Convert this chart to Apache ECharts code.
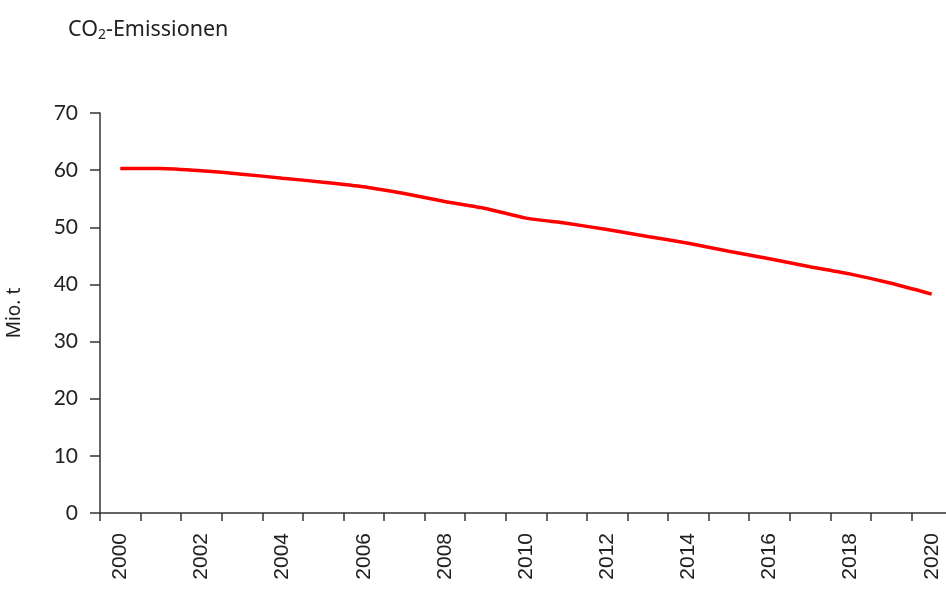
<!DOCTYPE html>
<html>
<head>
<meta charset="utf-8">
<script src="https://cdn.jsdelivr.net/npm/echarts@6/dist/echarts.min.js"></script>
<style>
html, body { margin: 0; padding: 0; background: #fff; }
#main { width: 946px; height: 592px; }
</style>
</head>
<body>
<div id="main"></div>
<script>
// Jahre (x-Achse)
var years = ['2000', '2001', '2002', '2003', '2004', '2005', '2006', '2007', '2008', '2009', '2010',
  '2011', '2012', '2013', '2014', '2015', '2016', '2017', '2018', '2019', '2020'];
// CO2-Emissionen in Mio. t
var emissions = [60.3, 60.3, 59.9, 59.3, 58.6, 57.9, 57.1, 55.9, 54.5, 53.3, 51.6,
  50.7, 49.6, 48.4, 47.2, 45.8, 44.5, 43.1, 41.8, 40.2, 38.3];
var yTicks = [0, 10, 20, 30, 40, 50, 60, 70];

var axisColor = '#333';
var chart = echarts.init(document.getElementById('main'));

var option = {
  animation: false,
  title: {
    text: '{a|CO}{s|2}{a|-Emissionen}',
    left: 63,
    top: 12,
    textStyle: {
      fontWeight: 'normal',
      rich: {
        a: { fontFamily: 'Noto Sans', fontWeight: 'normal', fontSize: 21.5, color: '#222', lineHeight: 26 },
        s: { fontFamily: 'Noto Sans', fontWeight: 'normal', fontSize: 14, color: '#222', padding: [11, 0, 0, 0], lineHeight: 26 }
      }
    }
  },
  grid: {
    left: 100,
    top: 113,
    bottom: 79,
    width: 852,
    outerBoundsMode: 'none'
  },
  xAxis: {
    type: 'category',
    data: years,
    boundaryGap: true,
    axisLine: { lineStyle: { color: axisColor, width: 1.5 } },
    axisTick: { show: true, interval: 0, length: 8, lineStyle: { color: axisColor, width: 1.5 } },
    axisLabel: {
      interval: 1,
      rotate: 90,
      margin: 20,
      fontFamily: 'Liberation Sans',
      fontSize: 21,
      color: '#222'
    },
    splitLine: { show: false }
  },
  yAxis: {
    type: 'value',
    min: yTicks[0],
    max: yTicks[yTicks.length - 1],
    interval: 10,
    name: 'Mio. t',
    nameLocation: 'middle',
    nameGap: 76,
    nameRotate: 90,
    nameTextStyle: { fontFamily: 'Noto Sans', fontSize: 19, color: '#222' },
    axisLine: { show: true, lineStyle: { color: axisColor, width: 1.5 } },
    axisTick: { show: true, length: 10, lineStyle: { color: axisColor, width: 1.5 } },
    axisLabel: {
      margin: 22,
      fontFamily: 'Lato',
      fontSize: 21,
      color: '#222'
    },
    splitLine: { show: false }
  },
  series: [{
    type: 'line',
    data: emissions,
    smooth: 0.2,
    symbol: 'none',
    lineStyle: { color: '#ff0000', width: 3.5 }
  }]
};
chart.setOption(option);
</script>
</body>
</html>
